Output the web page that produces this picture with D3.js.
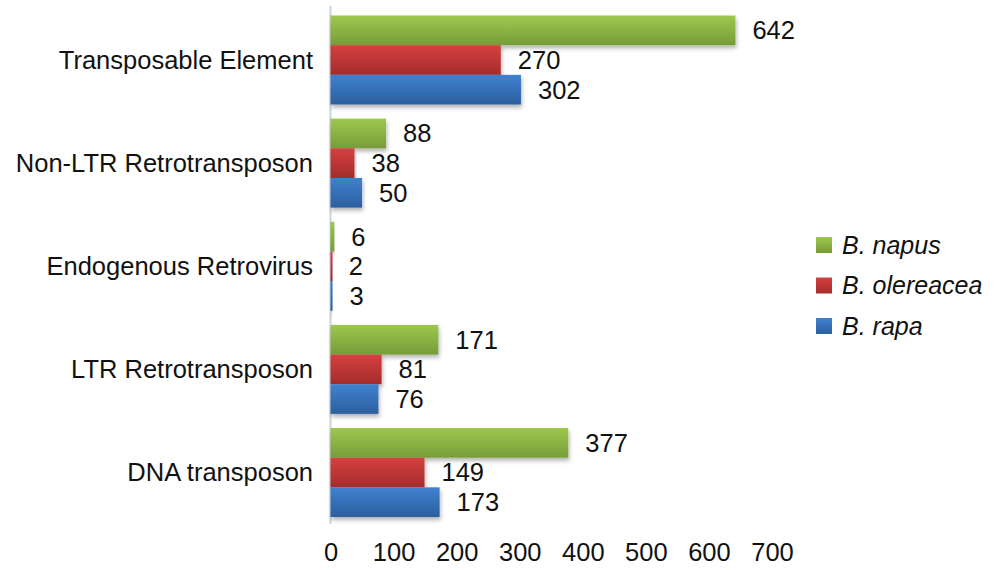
<!DOCTYPE html>
<html>
<head>
<meta charset="utf-8">
<script src="https://cdn.jsdelivr.net/npm/d3@7"></script>
<style>
  body { margin: 0; background: #fff; }
  text { font-family: "Liberation Sans", Arial, sans-serif; fill: #111; }
</style>
</head>
<body>
<div id="chart"></div>
<script>
// Categories top to bottom
var categories = ["Transposable Element", "Non-LTR Retrotransposon", "Endogenous Retrovirus", "LTR Retrotransposon", "DNA transposon"];
var seriesNames = ["B. napus", "B. olereacea", "B. rapa"];
var napus = [642, 88, 6, 171, 377];
var olereacea = [270, 38, 2, 81, 149];
var rapa = [302, 50, 3, 76, 173];
var xTicks = [0, 100, 200, 300, 400, 500, 600, 700];

var seriesValues = [napus, olereacea, rapa];
var colors = [
    {top: "#9dc84f", bottom: "#779c38"},
    {top: "#d6403f", bottom: "#a42c2b"},
    {top: "#3f81cf", bottom: "#2c5f9f"}
];

var width = 997, height = 570;
var svg = d3.select("#chart").append("svg")
    .attr("width", width)
    .attr("height", height);

var defs = svg.append("defs");
colors.forEach(function(c, i) {
    var g = defs.append("linearGradient")
        .attr("id", "grad" + i)
        .attr("x1", 0).attr("y1", 0).attr("x2", 0).attr("y2", 1);
    g.append("stop").attr("offset", "0%").attr("stop-color", c.top);
    g.append("stop").attr("offset", "100%").attr("stop-color", c.bottom);
});
var shadow = defs.append("filter").attr("id", "shadow")
    .attr("x", "-5%").attr("y", "-20%").attr("width", "115%").attr("height", "160%");
shadow.append("feDropShadow")
    .attr("dx", 1).attr("dy", 3).attr("stdDeviation", 2)
    .attr("flood-color", "#000").attr("flood-opacity", 0.3);

var x = d3.scaleLinear().domain([0, 700]).range([330.5, 772]);
var y0 = d3.scaleBand().domain(categories).range([8.5, 524]).paddingInner(0.137).paddingOuter(0.068);
var y1 = d3.scaleBand().domain(d3.range(3)).range([0, y0.bandwidth()]);

// axis line
svg.append("line")
    .attr("x1", x(0)).attr("x2", x(0))
    .attr("y1", 6).attr("y2", 524)
    .attr("stroke", "#c9d3de").attr("stroke-width", 2);

// category labels
svg.selectAll(".cat")
    .data(categories)
    .enter().append("text")
    .attr("class", "cat")
    .attr("x", 313)
    .attr("y", function(d) { return y0(d) + y0.bandwidth() / 2; })
    .attr("dy", "0.35em")
    .attr("text-anchor", "end")
    .style("font-size", "25.5px")
    .text(function(d) { return d; });

// bars
var groups = svg.selectAll(".grp")
    .data(categories)
    .enter().append("g")
    .attr("class", "grp")
    .attr("transform", function(d) { return "translate(0," + y0(d) + ")"; });

groups.selectAll("rect")
    .data(function(d, i) { return seriesValues.map(function(s, k) { return {k: k, v: s[i]}; }); })
    .enter().append("rect")
    .attr("x", x(0))
    .attr("y", function(d) { return y1(d.k); })
    .attr("width", function(d) { return Math.max(x(d.v) - x(0), 2); })
    .attr("height", y1.bandwidth())
    .attr("fill", function(d) { return "url(#grad" + d.k + ")"; })
    .attr("filter", "url(#shadow)");

groups.selectAll(".val")
    .data(function(d, i) { return seriesValues.map(function(s, k) { return {k: k, v: s[i]}; }); })
    .enter().append("text")
    .attr("class", "val")
    .attr("x", function(d) { return x(d.v) + 17; })
    .attr("y", function(d) { return y1(d.k) + y1.bandwidth() / 2; })
    .attr("dy", "0.35em")
    .style("font-size", "25.5px")
    .text(function(d) { return d.v; });

// x axis tick labels
var xAxis = svg.append("g")
    .attr("transform", "translate(0,524)")
    .call(d3.axisBottom(x).tickValues(xTicks).tickSize(0).tickPadding(19));
xAxis.select(".domain").remove();
xAxis.selectAll("text")
    .style("font-size", "25.5px")
    .style("font-family", "'Liberation Sans', Arial, sans-serif")
    .attr("fill", "#111");

// legend
var legend = svg.selectAll(".leg")
    .data(seriesNames)
    .enter().append("g")
    .attr("class", "leg")
    .attr("transform", function(d, i) { return "translate(816," + (245 + i * 40.5) + ")"; });
legend.append("rect")
    .attr("x", 0).attr("y", -8)
    .attr("width", 16).attr("height", 16)
    .attr("fill", function(d, i) { return "url(#grad" + i + ")"; });
legend.append("text")
    .attr("x", 26)
    .attr("dy", "0.35em")
    .style("font-size", "25px")
    .style("font-style", "italic")
    .text(function(d) { return d; });
</script>
</body>
</html>
